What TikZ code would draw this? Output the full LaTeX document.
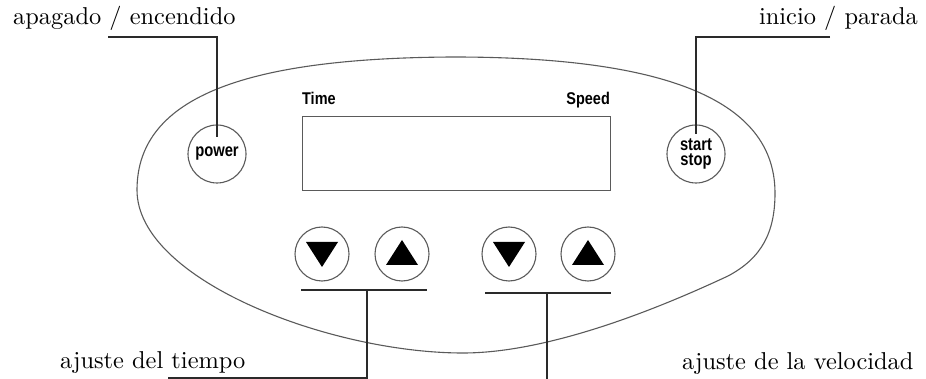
\documentclass[tikz,border=0pt]{standalone}
\usepackage{fontspec}
\newfontfamily\panelfont{Liberation Sans}
\newfontfamily\lblfont{lmroman10-regular.otf}
\definecolor{edge}{HTML}{5A5A5A}
\definecolor{lead}{HTML}{2A2A2A}
\begin{document}
\begin{tikzpicture}[x=1pt,y=-1pt,
  lbltext/.style={font=\lblfont\fontsize{24.4}{28}\selectfont, inner sep=0pt},
  keybtn/.style={circle, draw=edge, line width=1.1pt, minimum size=58pt, inner sep=0pt,
              font=\panelfont\bfseries\fontsize{18}{15.5}\selectfont, align=center},
  btn/.style={circle, draw=edge, line width=1.1pt, minimum size=54pt, inner sep=0pt},
  captext/.style={font=\panelfont\bfseries\fontsize{17}{20}\selectfont, inner sep=0pt},
  leader/.style={draw=lead, line width=1.3pt},
  panel/.style={draw=edge, line width=1.1pt}]
\useasboundingbox (0,0) rectangle (926,379);

% outer panel outline
\draw[panel] (137,190) .. controls (137,95) and (250,58) .. (453,57)
  .. controls (640,57) and (775,90) .. (775,193)
  .. controls (775,232) and (762,258) .. (728,276)
  .. controls (685,296) and (560,353) .. (463,353)
  .. controls (330,353) and (137,280) .. (137,190) -- cycle;

% display
\node[panel, rectangle, minimum width=308pt, minimum height=74pt, inner sep=0pt, anchor=north west] (disp) at (302,116) {};
\node[captext, anchor=base west, xscale=0.85] (tlabel) at (302,105) {Time};
\node[captext, anchor=base east, xscale=0.85] (slabel) at (610,105) {Speed};

% round keys
\node[keybtn] (power) at (217,154) {\scalebox{0.82}[1]{power}};
\node[keybtn] (start) at (696,154) {\scalebox{0.82}[1]{start}\\\scalebox{0.82}[1]{stop}};

% arrow buttons
\node[btn] (tdn) at (322,254) {};
\node[btn] (tup) at (402,254) {};
\node[btn] (spdn) at (509,254) {};
\node[btn] (spup) at (588,254) {};
\foreach \b in {tdn,spdn}{
  \fill ([shift={(-16,-12)}]\b.center) -- ([shift={(16,-12)}]\b.center) -- ([shift={(0,13)}]\b.center) -- cycle;}
\foreach \b in {tup,spup}{
  \fill ([shift={(-16,11)}]\b.center) -- ([shift={(16,11)}]\b.center) -- ([shift={(0,-14)}]\b.center) -- cycle;}

% labels
\node[lbltext, anchor=base west] (lpower) at (13,25) {apagado / encendido};
\node[lbltext, anchor=base east] (lstart) at (918,25) {inicio / parada};
\node[lbltext, anchor=base west] (ltime) at (60,368) {ajuste del tiempo};
\node[lbltext, anchor=base west] (lspeed) at (682,369) {ajuste de la velocidad};

% leader coordinates
\coordinate (pA) at (108,37);
\coordinate (pB) at (217,137);
\coordinate (sA) at (830,37);
\coordinate (sB) at (696,134);
\coordinate (tL) at (301,290);
\coordinate (tR) at (427,290);
\coordinate (tM) at (367,290);
\coordinate (tA) at (168,378);
\coordinate (vL) at (485,293);
\coordinate (vR) at (611,293);
\coordinate (vM) at (547,293);
\coordinate (vA) at (547,379);

\draw[leader] (pA) -| (pB);
\draw[leader] (sA) -| (sB);
\draw[leader] (tL) -- (tR);
\draw[leader] (tA) -| (tM);
\draw[leader] (vL) -- (vR);
\draw[leader] (vM) -- (vA);
\end{tikzpicture}
\end{document}
